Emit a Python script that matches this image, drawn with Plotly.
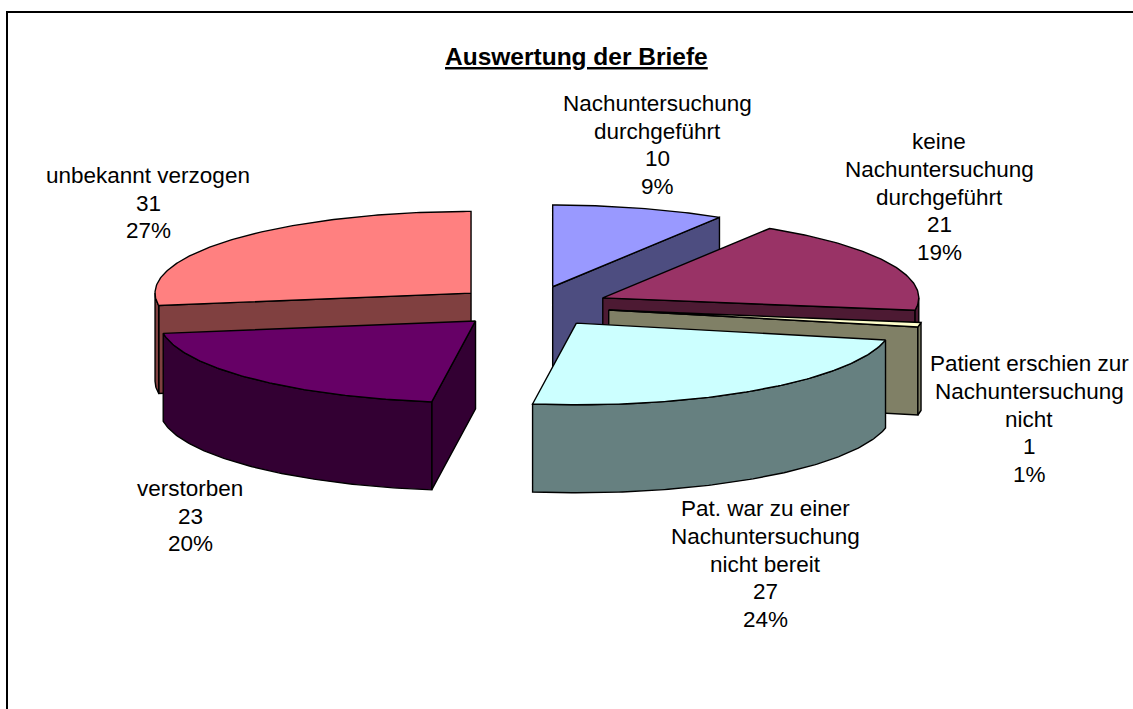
import numpy as np
import plotly.graph_objects as go

# --- data
categories = ["Nachuntersuchung<br>durchgeführt", "keine<br>Nachuntersuchung<br>durchgeführt",
              "Patient erschien zur<br>Nachuntersuchung<br>nicht", "Pat. war zu einer<br>Nachuntersuchung<br>nicht bereit",
              "verstorben", "unbekannt verzogen"]
values = [10, 21, 1, 27, 23, 31]
top_colors = ["#9999FF", "#993366", "#FFFFCC", "#CCFFFF", "#660066", "#FF8080"]
wall_colors = ["#4D4D80", "#4D1A33", "#808066", "#668080", "#330033", "#804040"]
draw_order = [0, 1, 2, 5, 3, 4]
label_x = [657, 939, 1029, 765, 190, 148]
label_y = [145, 197, 419, 564, 516, 203]

# --- pie geometry in page pixels
CX, CY = 531, 306.4
RX, RY = 316, 81.7
DEPTH = 88
EXPLODE = 0.25
LINE_STEP = 27.6
FONT = "Liberation Sans, Arial, sans-serif"

total = sum(values)
ends = np.cumsum(values) / total * 2 * np.pi
starts = np.concatenate([[0], ends[:-1]])


def rim(cx, cy, a0, a1, n=80):
    t = np.linspace(a0, a1, max(3, int(n * (a1 - a0)) + 2))
    return cx + RX * np.sin(t), cy - RY * np.cos(t)


def poly(fig, xs, ys, color):
    fig.add_trace(go.Scatter(x=np.append(xs, xs[0]), y=np.append(ys, ys[0]), mode="lines", fill="toself",
                             fillcolor=color, line=dict(color="#000000", width=1.4), hoverinfo="skip",
                             showlegend=False))


fig = go.Figure()
for i in draw_order:
    a0, a1 = starts[i], ends[i]
    mid = (a0 + a1) / 2
    cx = CX + EXPLODE * RX * np.sin(mid)
    cy = CY - EXPLODE * RY * np.cos(mid)
    wall = wall_colors[i]
    # radial walls that face the viewer
    for ang, visible in ((a0, np.sin(a0) < -1e-9), (a1, np.sin(a1) > 1e-9)):
        if visible:
            px, py = cx + RX * np.sin(ang), cy - RY * np.cos(ang)
            poly(fig, np.array([cx, px, px, cx]), np.array([cy, py, py + DEPTH, cy + DEPTH]), wall)
    # outer rim: only the front half of the ellipse
    f0, f1 = max(a0, np.pi / 2), min(a1, 3 * np.pi / 2)
    if f1 > f0:
        rx_, ry_ = rim(cx, cy, f0, f1)
        poly(fig, np.concatenate([rx_, rx_[::-1]]), np.concatenate([ry_, ry_[::-1] + DEPTH]), wall)
    # top face
    rx_, ry_ = rim(cx, cy, a0, a1)
    poly(fig, np.concatenate([[cx], rx_]), np.concatenate([[cy], ry_]), top_colors[i])

for name, v, lx, ly in zip(categories, values, label_x, label_y):
    pct = round(v / total * 100)
    lines = name.split("<br>") + [str(v), f"{pct}%"]
    for k, line in enumerate(lines):
        fig.add_annotation(x=lx, y=ly + (k - (len(lines) - 1) / 2) * LINE_STEP, text=line, showarrow=False,
                           xanchor="center", yanchor="middle",
                           font=dict(family=FONT, size=22.5, color="#000000"))

fig.add_annotation(x=576, y=56, text="<b><u>Auswertung der Briefe</u></b>", showarrow=False,
                   xanchor="center", yanchor="middle",
                   font=dict(family=FONT, size=24.5, color="#000000"))

fig.add_shape(type="rect", x0=7, y0=12, x1=1140, y1=720, line=dict(color="#000000", width=2), layer="below")

fig.update_layout(width=1133, height=709, margin=dict(l=0, r=0, t=0, b=0), paper_bgcolor="#FFFFFF",
                  plot_bgcolor="#FFFFFF", showlegend=False,
                  xaxis=dict(range=[0, 1133], visible=False, fixedrange=True),
                  yaxis=dict(range=[709, 0], visible=False, fixedrange=True))
fig.write_html("out.html", config=dict(displayModeBar=False),
               post_script="document.body.style.margin='0';document.body.style.overflow='hidden';")
